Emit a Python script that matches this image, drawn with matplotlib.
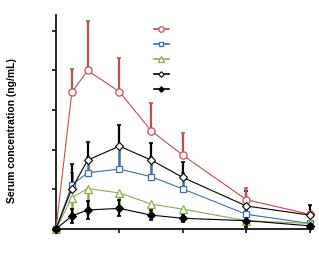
import numpy as np
import matplotlib
matplotlib.use("Agg")
import matplotlib.pyplot as plt

# tiempos de muestreo (h)
tiempos = [0, 0.25, 0.5, 1, 1.5, 2, 3, 4]

# series (unidades de tick del eje y)
rojo = [0, 3.45, 4.0, 3.46, 2.48, 1.86, 0.74, 0.37]
rojo_err = [0, 0.58, 1.26, 0.85, 0.69, 0.57, 0.30, 0.0]
azul = [0, 1.11, 1.42, 1.51, 1.32, 1.01, 0.37, 0.14]
azul_err = [0, 0.30, 0.40, 0.60, 0.50, 0.40, 0.10, 0.05]
verde = [0, 0.79, 1.02, 0.91, 0.63, 0.50, 0.21, 0.14]
verde_err = [0, 0.48, 0.54, 0.40, 0.20, 0.15, 0.15, 0.05]
diam_ab = [0, 1.02, 1.74, 2.09, 1.74, 1.30, 0.58, 0.35]
diam_ab_err = [0, 0.63, 0.46, 0.53, 0.42, 0.38, 0.39, 0.25]
diam_ll = [0, 0.33, 0.48, 0.52, 0.35, 0.27, 0.21, 0.08]
diam_ll_err = [0, 0.18, 0.22, 0.20, 0.12, 0.10, 0.15, 0.05]

c_rojo = "#C0504D"
c_azul = "#3E6DA8"
c_verde = "#8AAE4A"

fig = plt.figure(figsize=(3.19, 2.64), dpi=100)
ax = fig.add_axes([0.1755, 0.1326, 0.8056, 0.8106])

t = np.array(tiempos)
cero = np.zeros(len(t))

# barras de error primero
ax.errorbar(t, verde, yerr=[verde_err, cero], fmt="none",
            ecolor=c_verde, elinewidth=1.8, capsize=1.5, capthick=1.2, clip_on=False)
ax.errorbar(t, azul, yerr=[cero, azul_err], fmt="none",
            ecolor=c_azul, elinewidth=1.8, capsize=1.5, capthick=1.2, clip_on=False)
ax.errorbar(t, diam_ab, yerr=[cero, diam_ab_err], fmt="none",
            ecolor="black", elinewidth=1.6, capsize=1.5, capthick=1.2, clip_on=False)
ax.errorbar(t, rojo, yerr=[cero, rojo_err], fmt="none",
            ecolor=c_rojo, elinewidth=1.6, capsize=1.5, capthick=1.2, clip_on=False)
ax.errorbar(t, diam_ll, yerr=diam_ll_err, fmt="none",
            ecolor="black", elinewidth=1.6, capsize=1.5, capthick=1.2, clip_on=False)

ax.plot(t, rojo, color=c_rojo, lw=0.8, marker="o", ms=5.2, mfc="white",
        mec=c_rojo, mew=0.9, label=" ", clip_on=False, zorder=5)
ax.plot(t, azul, color=c_azul, lw=0.8, marker="s", ms=4.6, mfc="white",
        mec=c_azul, mew=0.9, label=" ", clip_on=False, zorder=5)
ax.plot(t, verde, color=c_verde, lw=0.8, marker="^", ms=5.2, mfc="white",
        mec=c_verde, mew=0.9, label=" ", clip_on=False, zorder=5)
ax.plot(t, diam_ab, color="black", lw=0.8, marker="D", ms=3.8, mfc="white",
        mec="black", mew=0.8, label=" ", clip_on=False, zorder=5)
ax.plot(t, diam_ll, color="black", lw=0.8, marker="D", ms=3.8, mfc="black",
        mec="black", mew=0.8, label=" ", clip_on=False, zorder=6)

ax.set_xlim(0, 4.05)
ax.set_ylim(0, 5.4)
ax.set_xticks([0, 1, 2, 3, 4])
ax.set_yticks([0, 1, 2, 3, 4, 5])
ax.set_xticklabels([])
ax.set_yticklabels([])
ax.tick_params(direction="out", length=3, width=1.1)
for lado in ["top", "right"]:
    ax.spines[lado].set_visible(False)
for lado in ["left", "bottom"]:
    ax.spines[lado].set_linewidth(1.2)

ax.set_ylabel("Serum concentration (ng/mL)", fontsize=7.5, fontweight="bold",
              family="Liberation Sans")
ax.yaxis.set_label_coords(-0.15, 0.46)

leg = ax.legend(loc="upper left", bbox_to_anchor=(0.366, 0.969), frameon=False,
                handlelength=1.66, handletextpad=0.3, labelspacing=0.67,
                fontsize=6.5, borderaxespad=0, markerscale=0.75)
for linea in leg.get_lines():
    linea.set_linewidth(1.2)

fig.savefig("out.png", dpi=100)
